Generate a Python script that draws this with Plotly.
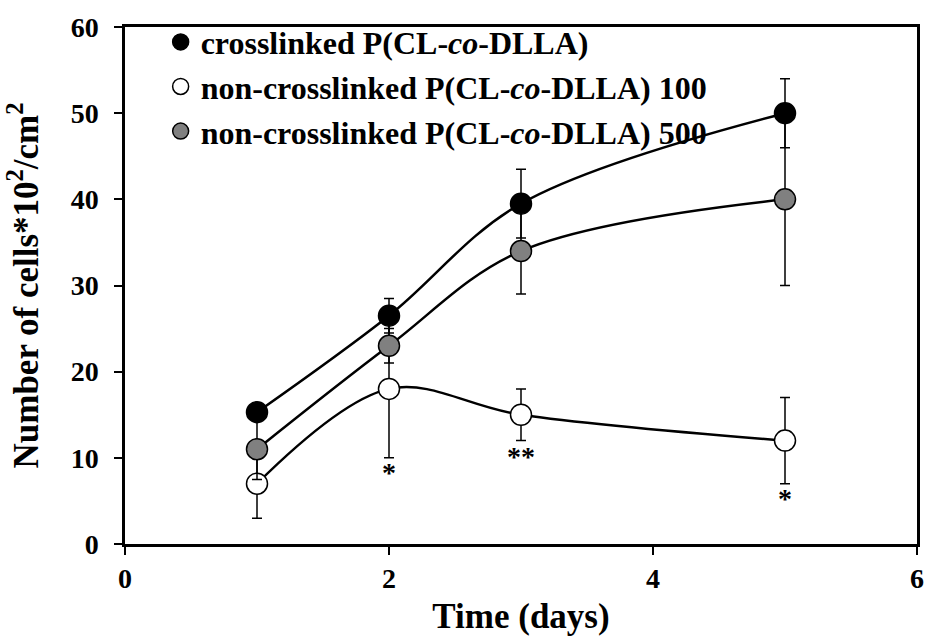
import plotly.graph_objects as go

days = [1, 2, 3, 5]
crosslinked = [15.3, 26.5, 39.5, 50.0]
crosslinked_err = [1.0, 2.0, 4.0, 4.0]
noncl_100 = [7.0, 18.0, 15.0, 12.0]
noncl_100_err = [4.0, 8.0, 3.0, 5.0]
noncl_500 = [11.0, 23.0, 34.0, 40.0]
noncl_500_err = [3.5, 2.0, 5.0, 10.0]

sig_x = [2, 3, 5]
sig_y = [8.3, 10.2, 5.3]
sig_text = ["*", "**", "*"]

# (name, values, errors, fill colour, legend rank)
series = [
    ("crosslinked P(CL-<i>co</i>-DLLA)", crosslinked, crosslinked_err, "black", 1),
    ("non-crosslinked P(CL-<i>co</i>-DLLA) 100", noncl_100, noncl_100_err, "white", 2),
    ("non-crosslinked P(CL-<i>co</i>-DLLA) 500", noncl_500, noncl_500_err, "#808080", 3),
]

fig = go.Figure()
for name, vals, err, col, rank in series:
    fig.add_trace(go.Scatter(
        x=days, y=vals, mode="lines",
        line=dict(color="black", width=2.5, shape="spline", smoothing=1.0),
        showlegend=False, hoverinfo="skip"))

# draw order (bottom to top): white, grey, black
for idx in [1, 2, 0]:
    name, vals, err, col, rank = series[idx]
    fig.add_trace(go.Scatter(
        x=days, y=vals, mode="markers", name="<b>" + name + "</b>",
        marker=dict(size=21, color=col, line=dict(color="black", width=1.5)),
        error_y=dict(type="data", array=err, color="black", thickness=1.5, width=5),
        legendrank=rank))

for x, y, t in zip(sig_x, sig_y, sig_text):
    fig.add_annotation(x=x, y=y, text="<b>" + t + "</b>", showarrow=False,
                       font=dict(size=28, color="black", family="Liberation Serif"))

axis_common = dict(showline=True, linecolor="black", linewidth=2.5, mirror=True,
                   ticks="outside", ticklen=8, tickwidth=2, tickcolor="black",
                   showgrid=False, zeroline=False, automargin=False,
                   tickfont=dict(size=28, family="Liberation Serif", color="black", weight="bold"))

fig.update_xaxes(range=[0, 6], dtick=2, tick0=0, ticklabelstandoff=0,
                 title=dict(text="<b>Time (days)</b>",
                            font=dict(size=35, family="Liberation Serif", color="black"), standoff=14),
                 **axis_common)
fig.update_yaxes(range=[0, 60], dtick=10, tick0=0, ticklabelstandoff=10,
                 title=dict(text="<b>Number of cells*10<sup>2</sup>/cm<sup>2</sup></b>",
                            font=dict(size=35, family="Liberation Serif", color="black"), standoff=22),
                 **axis_common)

fig.update_layout(
    width=926, height=636,
    margin=dict(l=125, r=9, t=27, b=92),
    plot_bgcolor="white", paper_bgcolor="white",
    font=dict(family="Liberation Serif", color="black"),
    legend=dict(x=0.045, y=1.024, xanchor="left", yanchor="top", bgcolor="rgba(0,0,0,0)",
                font=dict(size=32, family="Liberation Serif", color="black"),
                tracegroupgap=0, itemsizing="trace", itemwidth=30),
)

fig.write_html("out.html")
